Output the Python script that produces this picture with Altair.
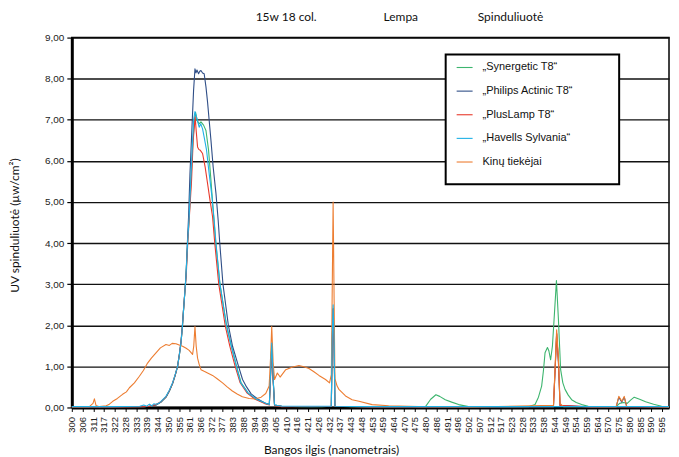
import altair as alt
import pandas as pd

SERIES = ["„Synergetic T8“", "„Philips Actinic T8“", "„PlusLamp T8“", "„Havells Sylvania“", "Kinų tiekėjai"]
COLORS = ["#3DB56E", "#2F4E87", "#E8392B", "#1FB1E6", "#ED7D31"]
WIDTHS = [1.1, 1.1, 2.0, 2.2, 1.2]
DRAW_ORDER = [0, 1, 2, 4, 3]

X_LABELS = ["300", "306", "311", "317", "322", "328", "333", "339", "344", "350", "355", "361",
            "366", "372", "377", "383", "388", "394", "399", "405", "410", "416", "421", "426",
            "432", "437", "443", "448", "453", "459", "464", "470", "475", "480", "486", "491",
            "496", "502", "507", "512", "517", "523", "528", "533", "538", "544", "549", "554",
            "559", "564", "570", "575", "580", "585", "590", "595"]

SYNERGETIC = [
    (300, 0.01), (310, 0.01), (320, 0.01), (330, 0.02), (336, 0.02), (338.8, 0.03), (342.1, 0.06),
    (344.6, 0.13), (347.1, 0.25), (348.8, 0.40), (350.4, 0.58), (351.7, 0.78), (352.9, 1.00),
    (353.8, 1.28), (354.6, 1.57), (355.3, 1.95), (355.9, 2.38), (356.5, 2.78), (357.1, 3.19),
    (357.9, 4.00), (358.8, 4.70), (359.6, 5.50), (360.4, 6.30), (361.2, 6.95), (361.9, 7.18),
    (362.7, 6.98), (363.7, 6.90), (364.6, 6.95), (365.9, 6.87), (367.1, 6.74), (368.4, 6.26),
    (369.6, 5.53), (370.7, 4.80), (372.0, 4.00), (374.1, 3.00), (377.4, 2.00), (379.8, 1.50),
    (382.4, 1.00), (384.7, 0.60), (388.2, 0.35), (392.2, 0.20), (396.7, 0.10), (398.8, 0.07),
    (399.4, 0.80), (400.0, 1.50), (400.7, 0.70), (401.4, 0.06), (405, 0.03), (415, 0.02),
    (425, 0.02), (429.8, 0.03), (430.2, 1.50), (430.7, 2.40), (431.2, 1.50), (431.6, 0.03),
    (440, 0.02), (460, 0.01), (476.9, 0.02), (479.5, 0.20), (482.1, 0.31), (484.0, 0.27),
    (486.8, 0.19), (490.0, 0.13), (493.5, 0.07), (498.4, 0.02), (510, 0.01), (520, 0.01),
    (528.4, 0.02), (531.7, 0.07), (533.4, 0.25), (535.0, 0.52), (535.9, 0.90), (536.7, 1.33),
    (537.9, 1.46), (538.6, 1.38), (539.5, 1.16), (540.4, 1.50), (541.2, 2.13), (542.4, 3.09),
    (543.4, 2.13), (544.5, 0.92), (545.6, 0.60), (546.7, 0.44), (548.3, 0.30), (550.0, 0.19),
    (552.3, 0.12), (555.0, 0.07), (558.3, 0.03), (565, 0.02), (572.3, 0.02), (574.0, 0.10),
    (576.0, 0.12), (577.8, 0.10), (579.5, 0.18), (581.3, 0.25), (584.0, 0.20), (587.0, 0.14),
    (591.0, 0.08), (595.0, 0.03), (598.7, 0.01)]

PHILIPS = [
    (300, 0.01), (320, 0.01), (336, 0.02), (338.8, 0.03), (342.1, 0.06), (344.6, 0.13),
    (347.1, 0.25), (348.8, 0.40), (350.4, 0.58), (351.7, 0.78), (352.9, 1.00), (353.8, 1.30),
    (354.6, 1.60), (355.3, 2.00), (355.9, 2.40), (356.5, 2.80), (357.1, 3.20), (357.8, 4.00),
    (358.4, 4.64), (359.1, 5.69), (360.1, 6.82), (360.9, 7.71), (361.6, 8.24), (362.1, 8.14),
    (362.6, 8.21), (363.4, 8.12), (364.0, 8.18), (364.6, 8.20), (365.4, 8.14), (366.2, 8.12),
    (367.1, 7.80), (367.9, 7.43), (368.7, 6.99), (369.6, 6.50), (370.7, 5.85), (372.1, 5.21),
    (373.2, 4.56), (374.0, 4.00), (375.6, 3.00), (378.3, 2.00), (380.4, 1.49), (383.4, 1.00),
    (385.4, 0.68), (387.4, 0.50), (389.7, 0.33), (393.2, 0.20), (397.0, 0.10), (398.8, 0.07),
    (399.4, 0.80), (400.0, 1.50), (400.7, 0.70), (401.4, 0.06), (405, 0.03), (420, 0.02),
    (429.8, 0.03), (430.2, 1.50), (430.7, 2.40), (431.2, 1.50), (431.6, 0.03), (450, 0.01),
    (500, 0.01), (540.9, 0.02), (541.9, 1.10), (542.5, 1.80), (543.4, 1.10), (544.2, 0.05),
    (560, 0.01), (572.3, 0.02), (573.6, 0.25), (575.1, 0.13), (576.3, 0.25), (577.5, 0.03),
    (598.7, 0.01)]

PLUSLAMP = [
    (300, 0.01), (320, 0.01), (336, 0.02), (338.8, 0.03), (342.1, 0.07), (344.6, 0.14),
    (347.1, 0.26), (348.8, 0.41), (350.4, 0.59), (351.7, 0.79), (352.9, 1.00), (353.8, 1.28),
    (354.6, 1.57), (355.3, 1.95), (355.9, 2.38), (356.5, 2.78), (357.2, 3.19), (358.0, 4.00),
    (358.7, 4.56), (359.9, 5.53), (360.7, 6.50), (361.7, 7.07), (362.2, 6.74), (362.9, 6.34),
    (363.5, 6.28), (364.2, 6.26), (365.4, 6.18), (366.7, 5.85), (367.9, 5.45), (369.1, 5.05),
    (370.4, 4.64), (371.5, 4.00), (373.5, 3.00), (376.7, 2.00), (379.0, 1.50), (381.7, 1.00),
    (384.2, 0.60), (387.7, 0.35), (391.7, 0.20), (396.2, 0.10), (398.8, 0.06), (399.4, 0.70),
    (400.0, 1.45), (400.7, 0.65), (401.4, 0.05), (405, 0.02), (429.8, 0.03), (430.2, 1.50),
    (430.7, 2.40), (431.2, 1.50), (431.6, 0.03), (450, 0.01), (540.9, 0.02), (541.9, 1.10),
    (542.5, 1.80), (543.4, 1.10), (544.2, 0.05), (560, 0.01), (598.7, 0.01)]

HAVELLS = [
    (300, 0.02), (320, 0.02), (334, 0.03), (336, 0.06), (337.5, 0.03), (338.8, 0.08),
    (340, 0.04), (341, 0.09), (342.1, 0.08), (343.5, 0.10), (344.6, 0.15), (347.1, 0.27),
    (348.8, 0.42), (350.4, 0.60), (351.7, 0.80), (352.9, 1.00), (353.8, 1.28), (354.6, 1.57),
    (355.3, 1.95), (355.9, 2.38), (356.5, 2.78), (357.1, 3.19), (357.9, 4.00), (358.7, 4.64),
    (359.5, 5.53), (360.2, 6.26), (360.9, 6.99), (361.6, 7.20), (362.6, 7.03), (363.7, 6.82),
    (364.5, 6.90), (365.4, 6.78), (366.2, 6.58), (367.4, 6.26), (368.7, 5.69), (370.1, 5.13),
    (371.2, 4.56), (372.1, 4.00), (374.1, 3.00), (377.3, 2.00), (379.5, 1.55), (382.3, 1.00),
    (384.5, 0.60), (388.2, 0.35), (392.4, 0.20), (397.0, 0.10), (398.8, 0.07), (399.4, 0.80),
    (400.0, 1.57), (400.7, 0.70), (401.4, 0.06), (405, 0.03), (429.8, 0.03), (430.2, 1.60),
    (430.7, 2.50), (431.2, 1.60), (431.6, 0.03), (450, 0.02), (598.7, 0.02)]

KINU = [
    (300, 0.02), (308.8, 0.02), (310.6, 0.10), (311.3, 0.21), (312.1, 0.05), (313.8, 0.02),
    (317.2, 0.04), (318.8, 0.08), (320.5, 0.15), (322.8, 0.22), (325.4, 0.32), (327.3, 0.38),
    (328.8, 0.48), (331.3, 0.60), (333.8, 0.76), (335.8, 0.90), (337.9, 1.08), (339.8, 1.20),
    (342.1, 1.33), (344.3, 1.45), (347.1, 1.53), (348.8, 1.51), (350.2, 1.56), (352.1, 1.55),
    (353.7, 1.52), (355.4, 1.49), (357.2, 1.44), (358.7, 1.39), (360.4, 1.29), (361.0, 1.50),
    (361.6, 1.97), (362.2, 1.50), (362.9, 1.20), (363.7, 1.05), (364.6, 0.92), (366.2, 0.88),
    (367.9, 0.84), (370.4, 0.78), (372.7, 0.70), (375.4, 0.60), (377.7, 0.50), (380.3, 0.40),
    (382.7, 0.33), (385.3, 0.26), (388.7, 0.22), (392.0, 0.21), (394.7, 0.25), (397.0, 0.34),
    (398.7, 0.52), (399.4, 1.20), (400.0, 1.97), (400.7, 1.10), (401.4, 0.68), (402.8, 0.84),
    (404.2, 0.74), (407.0, 0.92), (410.1, 0.98), (413.6, 1.02), (416.1, 0.99), (418.6, 0.95),
    (421.1, 0.87), (423.6, 0.78), (426.9, 0.68), (428.9, 0.60), (429.8, 0.80), (430.2, 2.60),
    (430.7, 5.00), (431.2, 2.60), (431.6, 0.70), (432.7, 0.52), (433.6, 0.44), (436.9, 0.28),
    (440.2, 0.19), (443.6, 0.15), (450.2, 0.07), (458.5, 0.04), (473.5, 0.02), (500, 0.01),
    (540.9, 0.05), (541.9, 1.20), (542.5, 1.89), (543.4, 1.20), (544.2, 0.10), (545.9, 0.02),
    (572.3, 0.02), (573.6, 0.27), (575.1, 0.15), (576.3, 0.27), (577.5, 0.03), (598.7, 0.01)]

DATA = [SYNERGETIC, PHILIPS, PLUSLAMP, HAVELLS, KINU]

rows = []
for name, pts in zip(SERIES, DATA):
    for wl, v in pts:
        rows.append({"series": name, "wl": wl, "val": v})
df = pd.DataFrame(rows)

n = len(X_LABELS) - 1
tick_pos = [300 + k * 295 / n for k in range(n + 1)]
label_arr = "[" + ",".join("'" + s + "'" for s in X_LABELS) + "]"
label_expr = label_arr + "[round((datum.value - 300) * " + str(n) + " / 295)]"

legend_cfg = alt.Legend(
    title=None, orient="none", legendX=385, legendY=21, padding=0,
    rowPadding=9.7, symbolType="stroke", symbolSize=256, labelOffset=9,
    labelFontSize=11, labelFont="Liberation Sans", labelColor="#111",
    labelLimit=200,
)

color = alt.Color("series:N", scale=alt.Scale(domain=SERIES, range=COLORS), legend=legend_cfg)
width = alt.StrokeWidth("series:N", scale=alt.Scale(domain=SERIES, range=WIDTHS), legend=legend_cfg)

x = alt.X("wl:Q", scale=alt.Scale(domain=[300, 598.7], nice=False, zero=False),
          axis=alt.Axis(values=tick_pos, labelExpr=label_expr, labelAngle=270,
                        title="Bangos ilgis (nanometrais)", titleX=260, titleY=42,
                        titleBaseline="middle", titleAlign="center",
                        labelFontSize=9.5, labelFont="Liberation Sans", labelColor="#222",
                        labelOverlap=False, labelFlush=False, labelBound=False,
                        tickSize=4, tickColor="#000", tickWidth=1, labelPadding=5,
                        grid=False, domainColor="#000", domainWidth=3))
y = alt.Y("val:Q", scale=alt.Scale(domain=[0, 9], nice=False),
          axis=alt.Axis(values=list(range(10)),
                        labelExpr="replace(format(datum.value, '.2f'), '.', ',')",
                        title="UV spinduliuotė (µw/cm²)", titleX=-57, titleY=188,
                        titleBaseline="middle", titleAlign="center",
                        labelFontSize=10, labelFont="Liberation Sans", labelColor="#222",
                        tickSize=5, tickColor="#000", tickWidth=1.2, labelPadding=3,
                        grid=True, gridColor="#111", gridWidth=1.4,
                        domainColor="#000", domainWidth=3))

base = alt.Chart(df).mark_line(strokeJoin="round").encode(x=x, y=y, color=color, strokeWidth=width)
layers = [base.transform_filter(alt.datum.series == SERIES[i]) for i in DRAW_ORDER]

box = alt.Chart(pd.DataFrame({"a": [0]})).mark_rect(
    fill="white", stroke="black", strokeWidth=2
).encode(x=alt.value(375), x2=alt.value(549), y=alt.value(17), y2=alt.value(147))

def title_word(txt, xpos):
    return alt.Chart(pd.DataFrame({"t": [txt]})).mark_text(
        font="Lato", fontSize=12, color="#111", align="center", baseline="middle"
    ).encode(text="t:N", x=alt.value(xpos), y=alt.value(-21))

chart = alt.layer(
    *layers, box,
    title_word("15w 18 col.", 215), title_word("Lempa", 330), title_word("Spinduliuotė", 440),
).properties(
    width=599, height=371,
    autosize=alt.AutoSizeParams(type="none"),
    padding={"left": 64, "top": 29, "right": 2, "bottom": 48},
).configure_view(
    stroke="#000", strokeWidth=1.5
).configure_axis(
    titleFont="Lato", titleFontSize=12, titleColor="#111", titleFontWeight="normal"
)

chart.save("out.html", embed_options={"renderer": "svg", "actions": False})
